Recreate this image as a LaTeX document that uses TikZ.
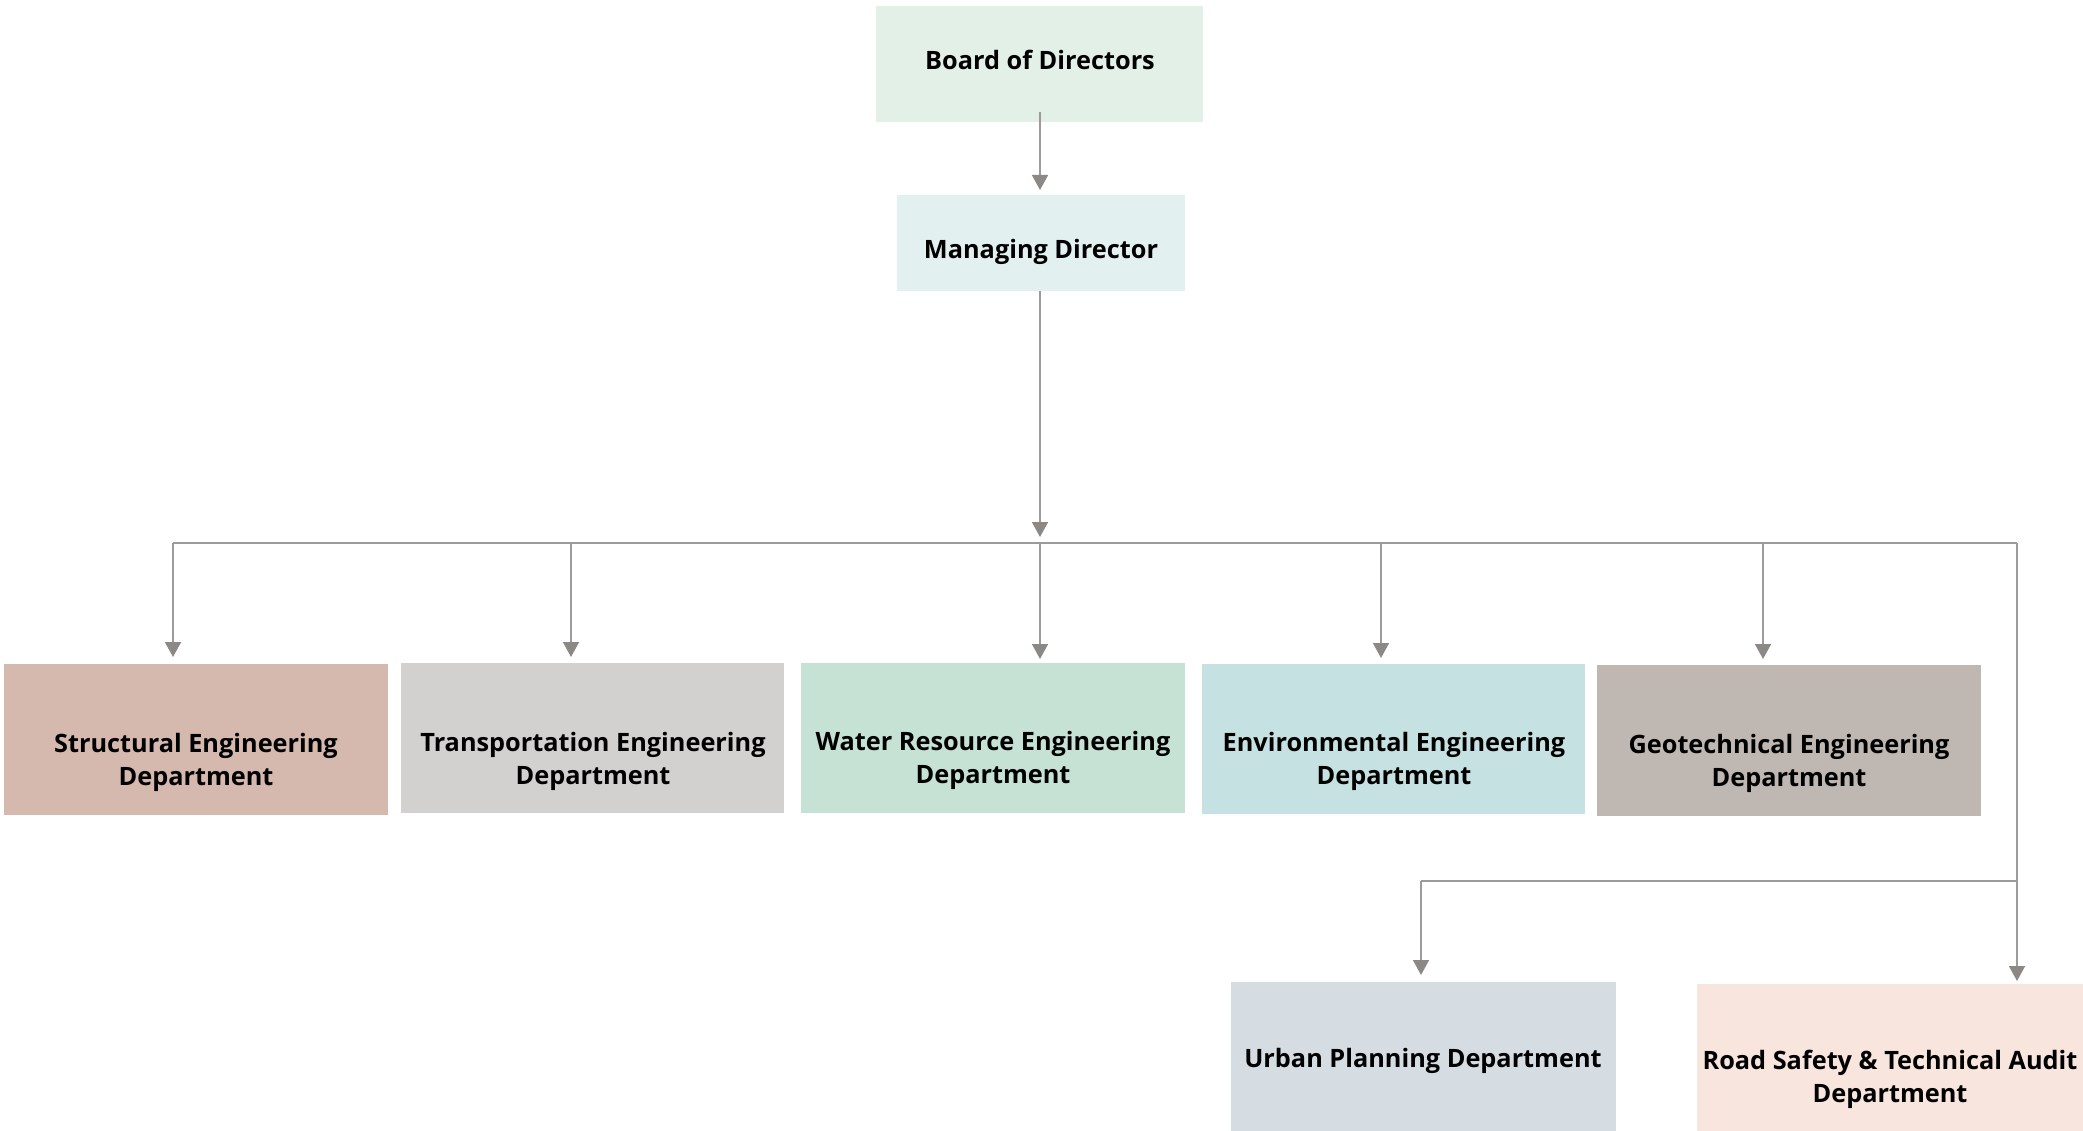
\documentclass[tikz,border=0pt]{standalone}
\usepackage{fontspec}
\setmainfont{Open Sans}[BoldFont={Open Sans Bold}]
\usetikzlibrary{arrows.meta}
\definecolor{cBoard}{HTML}{E3F0E7}
\definecolor{cMD}{HTML}{E2F0F0}
\definecolor{cStruct}{HTML}{D5B8AE}
\definecolor{cTrans}{HTML}{D3D1CF}
\definecolor{cWater}{HTML}{C5E2D5}
\definecolor{cEnv}{HTML}{C6E1E1}
\definecolor{cGeo}{HTML}{BFB7B1}
\definecolor{cUrban}{HTML}{D5DDE3}
\definecolor{cRoad}{HTML}{F8E5DD}
\definecolor{cLine}{HTML}{9B9B9B}
\definecolor{cTip}{HTML}{8C8886}
\begin{document}
\begin{tikzpicture}[x=1pt,y=-1pt,
  box/.style={rectangle,inner sep=0pt,outer sep=0pt},
  lbl/.style={font=\bfseries\fontsize{25.3}{33}\selectfont,align=center,text=black,inner sep=0pt},
  conn/.style={draw=cLine,line width=1.6pt},
  arr/.style={conn,-{Triangle[width=16pt,length=15pt,fill=cTip,color=cTip]}}]
\useasboundingbox (0,0) rectangle (2083,1131);
% boxes
\node[box,fill=cBoard,minimum width=327pt,minimum height=116pt] (board) at (1039.5,64) {};
\node[box,fill=cMD,minimum width=288pt,minimum height=96pt] (md) at (1041,243) {};
\node[box,fill=cStruct,minimum width=384pt,minimum height=151pt] (st) at (196,739.5) {};
\node[box,fill=cTrans,minimum width=383pt,minimum height=150pt] (tr) at (592.5,738) {};
\node[box,fill=cWater,minimum width=384pt,minimum height=150pt] (wa) at (993,738) {};
\node[box,fill=cEnv,minimum width=383pt,minimum height=150pt] (en) at (1393.5,739) {};
\node[box,fill=cGeo,minimum width=384pt,minimum height=151pt] (ge) at (1789,740.5) {};
\node[box,fill=cUrban,minimum width=385pt,minimum height=149pt] (ur) at (1423.5,1056.5) {};
\node[box,fill=cRoad,minimum width=386pt,minimum height=147pt] (ro) at (1890,1057.5) {};
% labels
\node[lbl] (tboard) at (1040,60) {Board of Directors};
\node[lbl] (tmd) at (1041,252) {Managing Director};
\node[lbl] (tst) at (196,762) {Structural Engineering\\Department};
\node[lbl] (ttr) at (593,761) {Transportation Engineering\\Department};
\node[lbl] (twa) at (993,760) {Water Resource Engineering\\Department};
\node[lbl] (ten) at (1394,761) {Environmental Engineering\\Department};
\node[lbl] (tge) at (1789,763) {Geotechnical Engineering\\Department};
\node[lbl] (tur) at (1423,1061) {Urban Planning Department};
\node[lbl] (tro) at (1890,1079) {Road Safety \& Technical Audit\\Department};
% junctions
\coordinate (busM) at (1040,543);
\coordinate (busL) at (173,543);
\coordinate (busR) at (2017,543);
\coordinate (bus2R) at (2017,881);
\coordinate (bus2L) at (1421,881);
% connectors
\draw[arr,shorten >=5pt] (1040,112) -- (1040,195);
\draw[arr,shorten >=6pt] (md.south -| busM) -- (busM);
\draw[conn] (busL) -- (busR);
\draw[arr,shorten >=7pt] (busL) -- (173,664);
\draw[arr,shorten >=6pt] (571,543) -- (571,663);
\draw[arr,shorten >=4pt] (busM) -- (1040,663);
\draw[arr,shorten >=6pt] (1381,543) -- (1381,664);
\draw[arr,shorten >=6pt] (1763,543) -- (1763,665);
\draw[arr,shorten >=3pt] (busR) -- (2017,984);
\draw[conn] (bus2R) -- (bus2L);
\draw[arr,shorten >=7pt] (bus2L) -- (1421,982);
\end{tikzpicture}
\end{document}
